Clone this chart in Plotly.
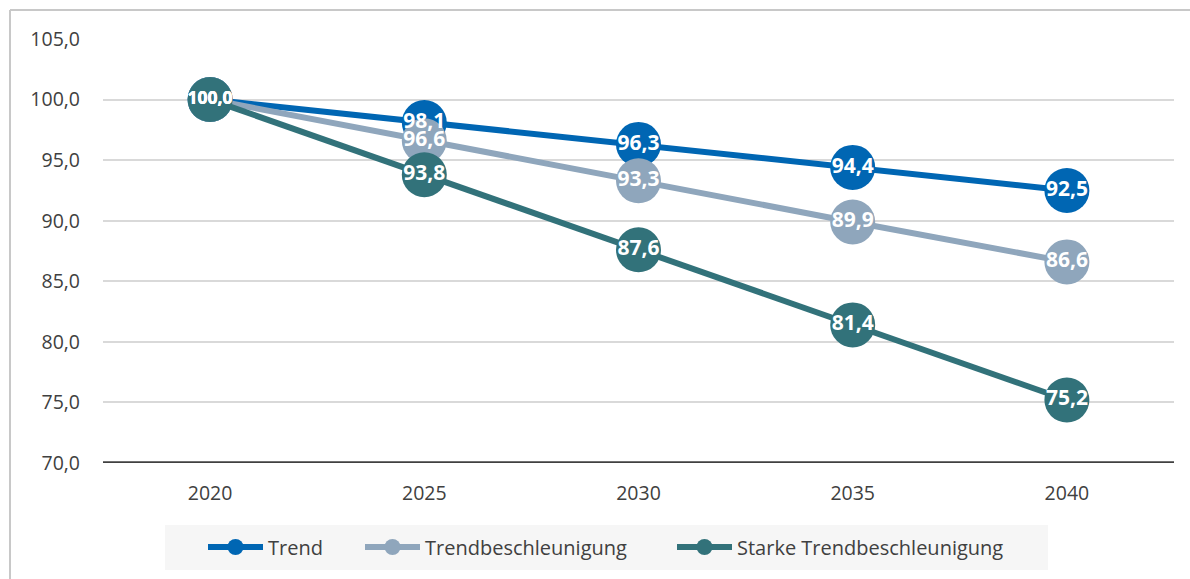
import plotly.graph_objects as go

years = ["2020", "2025", "2030", "2035", "2040"]
trend = [100.0, 98.1, 96.3, 94.4, 92.5]
beschleunigung = [100.0, 96.6, 93.3, 89.9, 86.6]
stark = [100.0, 93.8, 87.6, 81.4, 75.2]

series = [
    ("Trend", trend, "#0066B3", "legend", 203),
    ("Trendbeschleunigung", beschleunigung, "#8FA6BC", "legend2", 360),
    ("Starke Trendbeschleunigung", stark, "#32727A", "legend3", 672),
]

FONT = "Open Sans"
TXT = "#404040"

W, H = 1190, 579
ml, mr, mt, mb = 103, 16, 39, 116
pw, ph = W - ml - mr, H - mt - mb


def px(x):
    return (x - ml) / pw


def py(y):
    return (H - mb - y) / ph


fig = go.Figure()

# lines and markers first
for name, vals, color, lg, _ in series:
    fig.add_trace(go.Scatter(
        x=years, y=vals, name=name, legend=lg,
        mode="lines+markers",
        line=dict(color=color, width=6),
        marker=dict(color=color, size=45, line=dict(width=0)),
        cliponaxis=False,
    ))

# value labels on top of all markers (five-character labels set a bit smaller)
for name, vals, color, lg, _ in series:
    labels = [f"{v:.1f}".replace(".", ",") for v in vals]
    fig.add_trace(go.Scatter(
        x=years, y=vals, mode="text", showlegend=False, hoverinfo="skip",
        text=labels,
        textposition="middle center",
        textfont=dict(family=FONT, color="white", weight="bold",
                      size=[17.5 if len(t) > 4 else 21 for t in labels]),
        cliponaxis=False,
    ))

legends = {}
for name, vals, color, lg, xpos in series:
    legends[lg] = dict(
        orientation="h", x=px(xpos), xanchor="left", y=py(547), yanchor="middle",
        bgcolor="rgba(0,0,0,0)", font=dict(family=FONT, size=20, color=TXT),
        itemwidth=55,
    )

fig.update_layout(
    width=W, height=H,
    margin=dict(l=ml, r=mr, t=mt, b=mb),
    paper_bgcolor="white", plot_bgcolor="white",
    separators=",.",
    font=dict(family=FONT, size=19.5, color=TXT),
    showlegend=True,
    xaxis=dict(
        type="category", range=[-0.5, 4.5], showgrid=False, zeroline=False,
        showline=False, ticks="", tickfont=dict(size=19.5, color=TXT),
        ticklabelstandoff=16,
    ),
    yaxis=dict(
        range=[70, 105], dtick=5, tickformat=".1f",
        showgrid=True, gridcolor="#D9D9D9", gridwidth=1.5,
        zeroline=False, showline=False, ticks="",
        tickfont=dict(size=19.5, color=TXT), ticklabelstandoff=22,
    ),
    shapes=[
        # legend background panel
        dict(type="rect", xref="paper", yref="paper", layer="below",
             x0=px(165), x1=px(1048), y0=py(525), y1=py(570),
             fillcolor="#F6F6F6", line=dict(width=0)),
        # baseline at the bottom of the value axis
        dict(type="line", xref="paper", yref="y", x0=0, x1=1, y0=70, y1=70,
             line=dict(color="#404040", width=3.5)),
        # chart frame (left and top edges)
        dict(type="line", xref="paper", yref="paper", x0=px(10), x1=px(10),
             y0=py(10), y1=py(579), line=dict(color="#C8C8C8", width=2)),
        dict(type="line", xref="paper", yref="paper", x0=px(10), x1=px(1190),
             y0=py(10), y1=py(10), line=dict(color="#C8C8C8", width=2)),
    ],
    **legends,
)

fig.write_html("out.html")
